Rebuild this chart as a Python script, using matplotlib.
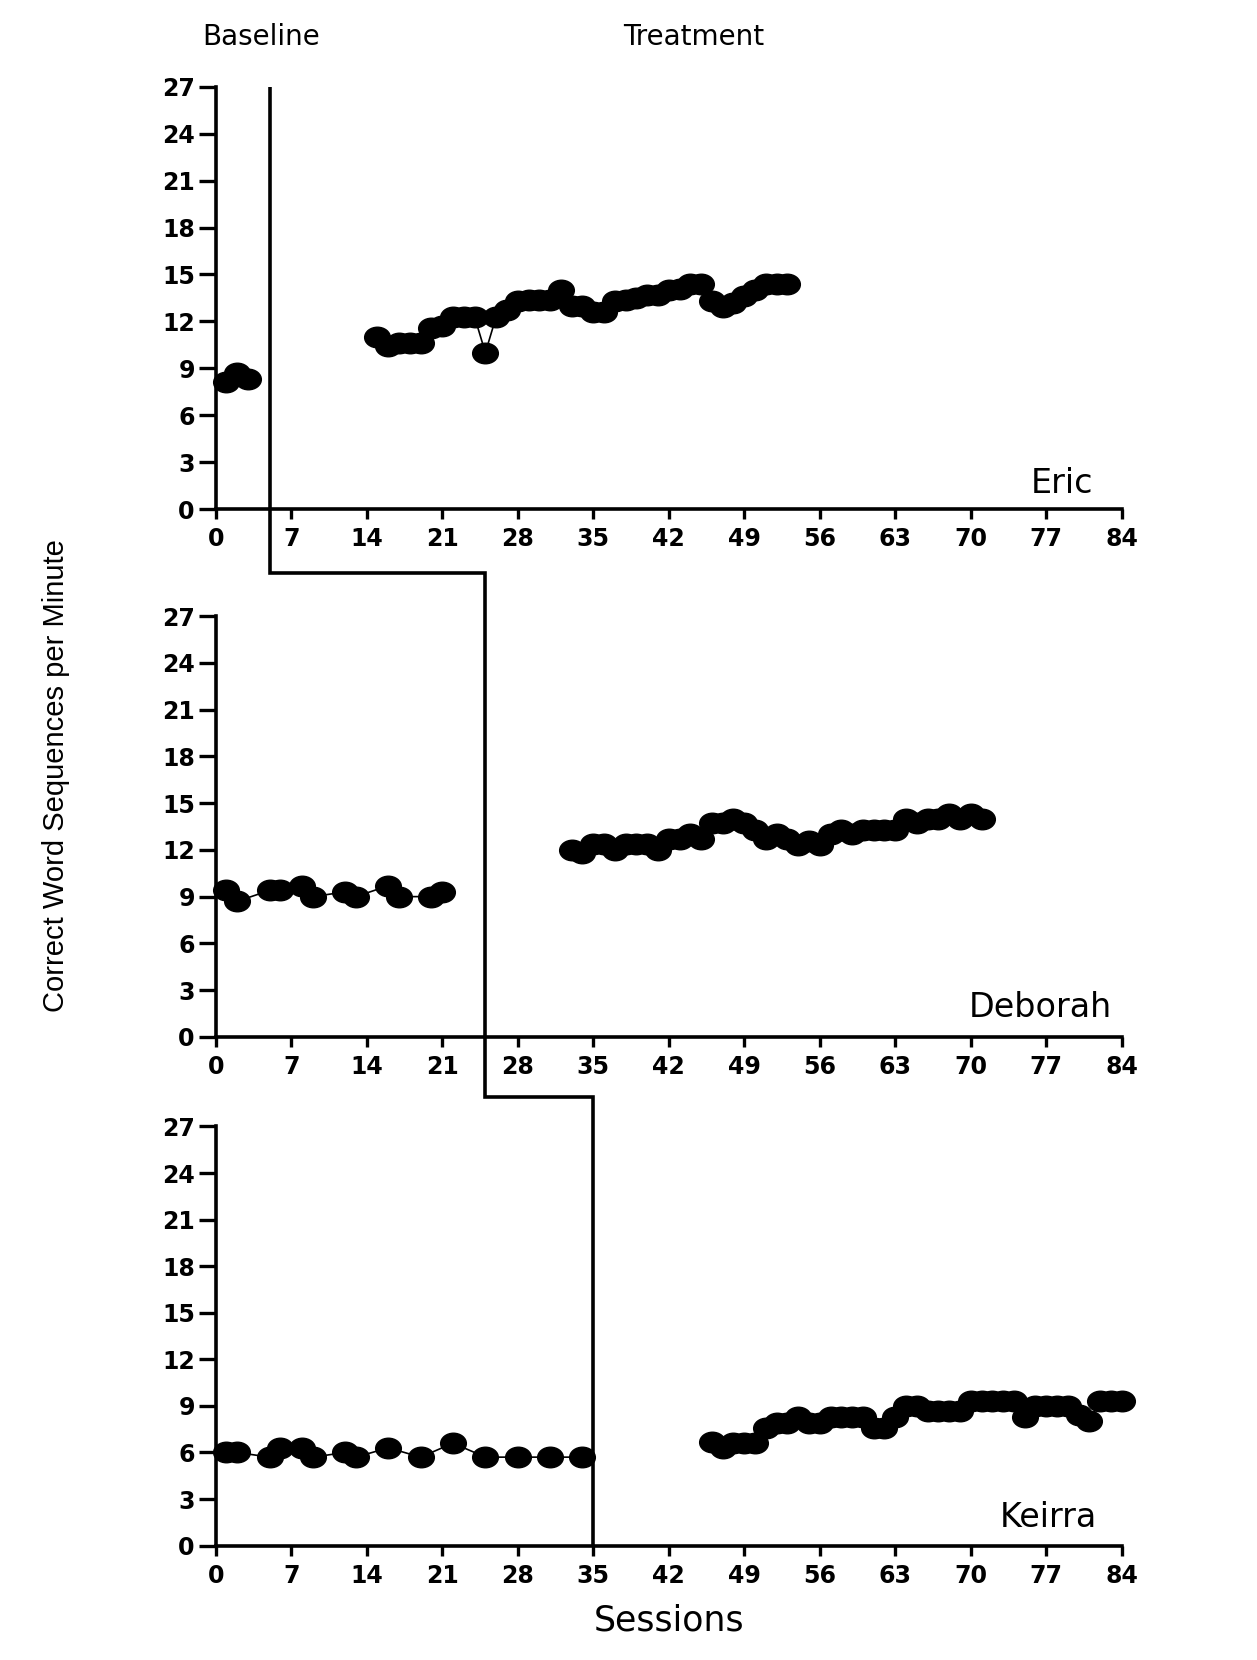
import matplotlib
matplotlib.use("Agg")
import matplotlib.pyplot as plt
from matplotlib.path import Path
from matplotlib.transforms import Affine2D
from matplotlib.lines import Line2D

# ---------------- data ----------------
x_ticks = [0, 7, 14, 21, 28, 35, 42, 49, 56, 63, 70, 77, 84]
y_ticks = [0, 3, 6, 9, 12, 15, 18, 21, 24, 27]
phase_changes = [5, 25, 35]          # session where treatment starts (Eric, Deborah, Keirra)
names = ["Eric", "Deborah", "Keirra"]

eric_base_x = [1, 2, 3]
eric_base_y = [8.1, 8.7, 8.3]
eric_treat_x = list(range(15, 54))
eric_treat_y = [11.0, 10.4, 10.6, 10.6, 10.6, 11.6, 11.7, 12.3, 12.3, 12.3,
                10.0, 12.3, 12.7, 13.3, 13.4, 13.4, 13.4, 14.0, 13.0, 13.0,
                12.6, 12.6, 13.3, 13.4, 13.5, 13.7, 13.7, 14.0, 14.1, 14.4,
                14.4, 13.3, 12.9, 13.2, 13.6, 14.0, 14.4, 14.4, 14.4]

deb_base_x = [1, 2, 5, 6, 8, 9, 12, 13, 16, 17, 20, 21]
deb_base_y = [9.4, 8.7, 9.4, 9.4, 9.7, 9.0, 9.3, 9.0, 9.7, 9.0, 9.0, 9.3]
deb_treat_x = list(range(33, 72))
deb_treat_y = [12.0, 11.8, 12.4, 12.4, 12.0, 12.4, 12.4, 12.4, 12.0,
               12.7, 12.7, 13.0, 12.7, 13.7, 13.7, 14.0, 13.7, 13.3,
               12.7, 13.0, 12.7, 12.3, 12.6, 12.3, 13.0, 13.3, 13.0,
               13.3, 13.3, 13.3, 13.3, 14.0, 13.7, 14.0, 14.0, 14.3, 14.0, 14.3, 14.0]

kei_base_x = [1, 2, 5, 6, 8, 9, 12, 13, 16, 19, 22, 25, 28, 31, 34]
kei_base_y = [6.0, 6.0, 5.7, 6.3, 6.3, 5.7, 6.0, 5.7, 6.3, 5.7, 6.6, 5.7, 5.7, 5.7, 5.7]
kei_treat_x = list(range(46, 85))
kei_treat_y = [6.7, 6.3, 6.6, 6.6, 6.6,
               7.6, 7.9, 7.9, 8.3, 7.9, 7.9, 8.3, 8.3, 8.3, 8.3,
               7.6, 7.6, 8.3, 9.0, 9.0, 8.7, 8.7, 8.7, 8.7, 9.3,
               9.3, 9.3, 9.3, 9.3, 8.3, 9.0, 9.0, 9.0, 9.0, 8.4,
               8.0, 9.3, 9.3, 9.3]

series = [
    (eric_base_x, eric_base_y, eric_treat_x, eric_treat_y),
    (deb_base_x, deb_base_y, deb_treat_x, deb_treat_y),
    (kei_base_x, kei_base_y, kei_treat_x, kei_treat_y),
]

# ---------------- figure ----------------
W, H = 1257, 1660
fig = plt.figure(figsize=(W / 100, H / 100), dpi=100)

left, right = 0.1716, 0.8924
panels = [(0.6932, 0.9478), (0.3754, 0.6288), (0.0689, 0.3214)]

ellipse = Path.unit_circle().transformed(Affine2D().scale(1.25, 1.0))

tick_font = dict(family="DejaVu Sans", weight="bold", size=17)
axes = []
for (b, t), (bx, by, tx, ty) in zip(panels, series):
    ax = fig.add_axes([left, b, right - left, t - b])
    ax.set_xlim(0, 84)
    ax.set_ylim(0, 27)
    for s in ["top", "right"]:
        ax.spines[s].set_visible(False)
    for s in ["left", "bottom"]:
        ax.spines[s].set_linewidth(2.6)
    ax.set_xticks(x_ticks)
    ax.set_yticks(y_ticks)
    ax.tick_params(axis="x", direction="out", length=7, width=2.4, pad=6)
    ax.tick_params(axis="y", direction="out", length=12, width=2.4, pad=3)
    for lab in ax.get_xticklabels() + ax.get_yticklabels():
        lab.set_fontfamily(tick_font["family"])
        lab.set_fontweight(tick_font["weight"])
        lab.set_fontsize(tick_font["size"])
    for xs, ys in [(bx, by), (tx, ty)]:
        ax.plot(xs, ys, color="black", lw=1.2, marker=ellipse, markersize=18.5,
                markerfacecolor="black", markeredgecolor="black",
                clip_on=False, zorder=4)
    axes.append(ax)

# ---------------- phase change line ----------------
inv = fig.transFigure.inverted()


def fig_x(session):
    return inv.transform(axes[0].transData.transform((session, 0)))[0]


def fig_y(ax, val):
    return inv.transform(ax.transData.transform((0, val)))[1]


y_step1 = 0.6549
y_step2 = 0.3393
px = [fig_x(phase_changes[0]), fig_x(phase_changes[0]),
      fig_x(phase_changes[1]), fig_x(phase_changes[1]),
      fig_x(phase_changes[2]), fig_x(phase_changes[2])]
py = [fig_y(axes[0], 27), y_step1, y_step1, y_step2, y_step2, fig_y(axes[2], 0)]
fig.add_artist(Line2D(px, py, transform=fig.transFigure, color="black", lw=2.6,
                      solid_joinstyle="miter", solid_capstyle="butt", zorder=5))

# ---------------- texts ----------------
fig.text(0.2080, 0.9777, "Baseline", ha="center", va="center",
         family="DejaVu Sans", fontsize=20)
fig.text(0.5516, 0.9777, "Treatment", ha="center", va="center",
         family="DejaVu Sans", fontsize=20)

name_pos = [(0.870, 0.7086), (0.8843, 0.3928), (0.8726, 0.0861)]
for (nx, ny), nm in zip(name_pos, names):
    fig.text(nx, ny, nm, ha="right", va="center", family="DejaVu Sans", fontsize=24)

fig.text(0.5323, 0.0236, "Sessions", ha="center", va="center",
         family="DejaVu Sans", fontsize=25)
fig.text(0.0446, 0.5325, "Correct Word Sequences per Minute", ha="center",
         va="center", rotation=90,
         family=["Liberation Sans Narrow", "Liberation Sans", "DejaVu Sans"],
         fontsize=21)

fig.savefig("out.png", dpi=100, facecolor="white")
